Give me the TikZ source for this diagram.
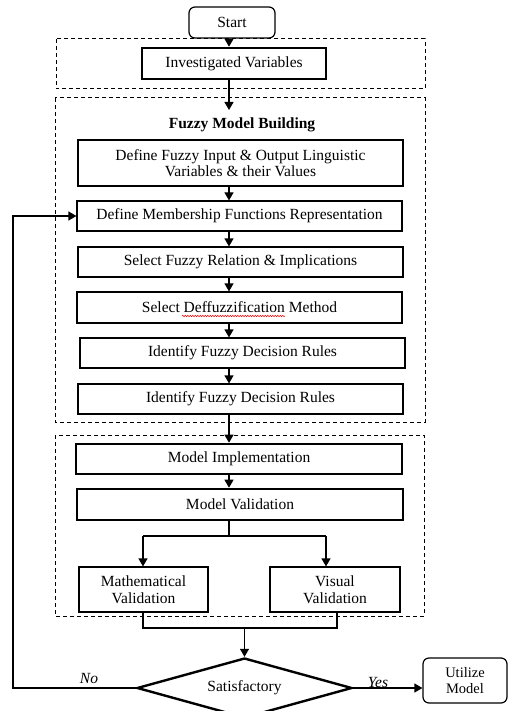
\documentclass[tikz,border=0pt]{standalone}
\usepackage{fontspec}
\setmainfont{Liberation Serif}
\usetikzlibrary{arrows.meta,shapes.geometric,decorations.pathmorphing}

\tikzset{
  txt/.style={font=\fontsize{15.5}{16.5}\selectfont},
  box/.style={draw, line width=1.2pt, rectangle, align=center, inner sep=2pt, txt},
  thickbox/.style={box, line width=2.6pt},
  rbox/.style={box, rounded corners=6pt},
  group/.style={draw, dash pattern=on 4pt off 3pt, line width=1pt},
  arr/.style={line width=1.2pt, -{Triangle[width=9pt,length=8pt]}},
  ln/.style={line width=1.2pt},
  lbl/.style={font=\fontsize{15.5}{16.5}\selectfont\itshape, inner sep=0pt},
}

\begin{document}
\begin{tikzpicture}[x=1pt,y=-1pt]
\useasboundingbox (0,0) rectangle (508,711);

% dashed stage frames
\draw[group] (56,39) rectangle (425,89);
\draw[group] (55,98) rectangle (425,422);
\draw[group] (55,435) rectangle (424,616);

\coordinate (spine) at (229,0);

% start and first stage
\node[rbox, minimum width=86pt, minimum height=31pt] (start) at (232,22.5) {Start};
\node[thickbox, minimum width=184pt, minimum height=31pt] (inv) at (234,63.5) {Investigated Variables};

% fuzzy model building
\node[font=\fontsize{15.5}{16.5}\selectfont\bfseries] (title) at (242,125) {Fuzzy Model Building};
\node[box, minimum width=325pt, minimum height=46pt] (b1) at (240.5,163) {Define Fuzzy Input \& Output Linguistic\\Variables \& their Values};
\node[box, minimum width=325pt, minimum height=30pt] (b2) at (239.5,216) {Define Membership Functions Representation};
\node[box, minimum width=325pt, minimum height=30pt] (b3) at (240.5,262) {Select Fuzzy Relation \& Implications};
\node[box, minimum width=325pt, minimum height=31pt] (b4) at (239.5,307.5) {Select Deffuzzification Method};
\node[box, minimum width=325pt, minimum height=30pt] (b5) at (242.5,353) {Identify Fuzzy Decision Rules};
\node[box, minimum width=325pt, minimum height=30pt] (b6) at (240.5,399) {Identify Fuzzy Decision Rules};

% spell-check mark under the misspelt word
\draw[red, line width=0.5pt, decorate, decoration={snake, amplitude=0.7pt, segment length=2.5pt}] (182,316) -- (285,316);

% implementation and validation
\node[thickbox, minimum width=326pt, minimum height=30pt] (mi) at (239,459) {Model Implementation};
\node[thickbox, minimum width=326pt, minimum height=31pt] (mv) at (240,504.5) {Model Validation};
\node[box, minimum width=129pt, minimum height=45pt] (math) at (143.5,589.5) {Mathematical\\Validation};
\node[box, minimum width=130pt, minimum height=45pt] (vis) at (335,589.5) {Visual\\Validation};

% decision and end
\node[draw, line width=2.4pt, diamond, aspect=3.58, minimum width=215pt, minimum height=60pt, inner sep=0pt, txt] (sat) at (244.5,688) {Satisfactory};
\node[rbox, minimum width=84pt, minimum height=45pt, font=\fontsize{14.5}{15.5}\selectfont] (util) at (465,680.5) {Utilize\\Model};

% main flow
\draw[arr] (start.south -| spine) -- (inv.north -| spine);
\coordinate (t1) at (229,110);
\draw[arr] (inv.south -| spine) -- (t1);
\draw[arr] (b1.south -| spine) -- (b2.north -| spine);
\draw[arr] (b2.south -| spine) -- (b3.north -| spine);
\draw[arr] (b3.south -| spine) -- (b4.north -| spine);
\draw[arr] (b4.south -| spine) -- (b5.north -| spine);
\draw[arr] (b5.south -| spine) -- (b6.north -| spine);
\draw[arr] (b6.south -| spine) -- (mi.north -| spine);
\draw[arr] (mi.south -| spine) -- (mv.north -| spine);

% split into the two validations
\coordinate (split) at (229,536);
\coordinate (mathin) at (143,0);
\coordinate (visin) at (326,0);
\draw[ln] (mv.south -| spine) -- (split);
\draw[arr] (split -| mathin) -- (math.north -| mathin);
\draw[arr] (split -| visin) -- (vis.north -| visin);
\draw[ln] (split -| mathin) -- (split -| visin);

% join of the two validations
\coordinate (join) at (244.5,628);
\coordinate (visout) at (337,0);
\draw[ln] (math.south -| mathin) -- (join -| mathin) -- (join -| visout) -- (vis.south -| visout);
\draw[arr] (join) -- (sat.north);

% outcomes
\coordinate (back) at (13,688);
\draw[arr] (sat.west) -- (back) -- (back |- b2.west) -- (b2.west);
\draw[arr] (sat.east) -- (sat.east -| util.west);
\node[lbl] (no) at (89,678) {No};
\node[lbl] (yes) at (378,682) {Yes};
\end{tikzpicture}
\end{document}
